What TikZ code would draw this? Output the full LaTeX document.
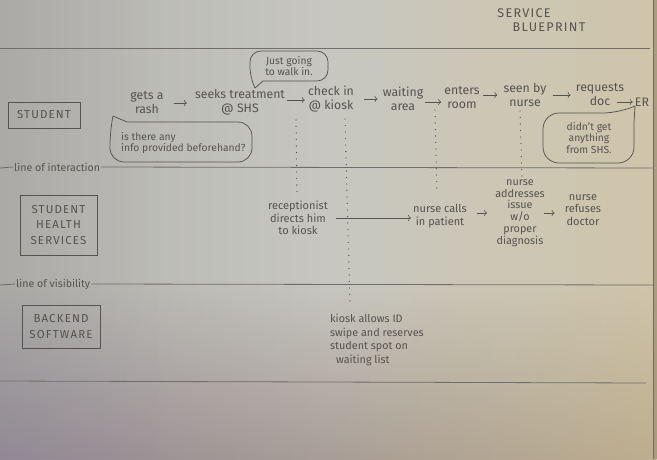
\documentclass[tikz,border=0pt]{standalone}
\usepackage{fontspec}
\setmainfont{Fira Sans}
\newfontfamily\capsfont{Fira Sans}[LetterSpace=10]
\usetikzlibrary{fadings, arrows.meta}

\definecolor{pencil}{HTML}{55544E}
\definecolor{rulegray}{HTML}{6F6E6A}
\definecolor{paperL}{HTML}{B2B1AE}
\definecolor{paperM}{HTML}{C7C7C0}
\definecolor{paperR}{HTML}{D0C5AA}
\definecolor{shadeL}{HTML}{8A7F90}
\definecolor{shadeR}{HTML}{B8A888}
\definecolor{edgecol}{HTML}{AC9C7C}

\begin{document}
\begin{tikzpicture}[x=1pt, y=-1pt,
  flow/.style={font=\fontsize{12.3}{14}\selectfont, align=center, inner sep=0pt, text=pencil},
  small/.style={font=\fontsize{11}{12.5}\selectfont, align=center, inner sep=0pt, text=pencil},
  caps/.style={font=\capsfont\fontsize{11.5}{15.5}\selectfont, align=center, inner sep=0pt, text=pencil},
  heading/.style={caps, font=\capsfont\fontsize{12.6}{15}\selectfont},
  lane/.style={caps, draw=pencil, line width=0.7pt},
  rule/.style={draw=rulegray, line width=0.8pt},
  rulelabel/.style={font=\fontsize{10.6}{12}\selectfont, inner sep=1pt, text=pencil},
  flowarrow/.style={draw=pencil, line width=0.6pt, -{To[length=3pt,width=6pt]}},
  guide/.style={draw=pencil, line width=1.3pt, line cap=round, dash pattern=on 0pt off 6.5pt},
  thought/.style={font=\fontsize{10.3}{11.3}\selectfont, align=center, inner sep=0pt, text=pencil},
  bubble/.style={draw=pencil, line width=0.75pt, line join=round}
]
\useasboundingbox (0,0) rectangle (657,459);

% paper and lighting
\shade[left color=paperL, right color=paperR, middle color=paperM] (0,0) rectangle (657,459);
\shade[left color=shadeL, right color=shadeR, path fading=north, opacity=0.8] (0,280) rectangle (657,459);
\fill[paperL!80!black, path fading=east, opacity=0.2] (0,0) rectangle (160,459);
\fill[edgecol] (653,0) rectangle (657,459);
\draw[rulegray, line width=0.6pt] (653,0) -- (653,459);

% title
\node[heading] (title1) at (524,13) {SERVICE};
\node[heading] (title2) at (549,27) {BLUEPRINT};

% ruled lines
\coordinate (r0w) at (0,48);   \coordinate (r0e) at (650,48);
\coordinate (r1w) at (0,168);  \coordinate (r1e) at (653,168);
\coordinate (r2w) at (0,285);  \coordinate (r2e) at (653,285);
\coordinate (r3w) at (0,381);  \coordinate (r3e) at (646,383);
\draw[rule] (r0w) -- (r0e);
\node[rulelabel, anchor=west] (interaction) at (13,167) {line of interaction};
\draw[rule] (r1w) -- (interaction.west);
\draw[rule] (interaction.east) -- (r1e);
\node[rulelabel, anchor=west] (visibility) at (15,284) {line of visibility};
\draw[rule] (r2w) -- (visibility.west);
\draw[rule] (visibility.east) -- (r2e);
\draw[rule] (r3w) -- (r3e);

% swimlane labels
\node[lane, minimum width=72pt, minimum height=26pt] (student) at (44,115) {STUDENT};
\node[lane, minimum width=77pt, minimum height=60pt] (shs) at (58.5,225) {STUDENT\\HEALTH\\SERVICES};
\node[lane, minimum width=78pt, minimum height=43pt] (backend) at (61,326.5) {BACKEND\\SOFTWARE};

% student actions
\node[flow] (rash) at (147,103) {gets a\\rash};
\node[flow] (seeks) at (240,102) {seeks treatment\\@ SHS};
\node[flow] (check) at (331,99) {check in\\@ kiosk};
\node[flow] (waiting) at (403,99) {waiting\\area};
\node[flow] (enters) at (462,98) {enters\\room};
\node[flow] (seen) at (525,95) {seen by\\nurse};
\node[flow] (requests) at (600,95) {requests\\doc};
\node[flow] (er) at (642,102) {ER};

\draw[flowarrow, shorten <=10pt, shorten >=8pt] (rash.east) -- (rash.east -| seeks.west);
\draw[flowarrow, shorten <=2pt, shorten >=3pt] ([yshift=2pt]seeks.east) -- ([yshift=2pt]seeks.east -| check.west);
\draw[flowarrow, shorten <=10pt, shorten >=5pt] (check.east) -- (check.east -| waiting.west);
\draw[flowarrow, shorten <=2pt, shorten >=3pt] ([yshift=-3pt]waiting.east) -- ([yshift=-3pt]waiting.east -| enters.west);
\draw[flowarrow, shorten <=3pt, shorten >=6pt] ([yshift=3pt]enters.east) -- ([yshift=3pt]enters.east -| seen.west);
\draw[flowarrow, shorten <=6pt, shorten >=5pt] (seen.east) -- (seen.east -| requests.west);
\draw[flowarrow, shorten >=2pt] ([xshift=-7pt,yshift=-7pt]requests.east) -- (er.west);

% customer thoughts: text, then the speech bubble drawn around it
\node[thought] (walk) at (289,66) {Just going\\to walk in.};
\node[thought, align=left, anchor=west] (info) at (121,143) {is there any\\info provided beforehand?};
\node[thought] (nothing) at (589,138) {didn't get\\anything\\from SHS.};

\coordinate (tipwalk) at (255,88);
\coordinate (tipinfo) at (113,116);
\coordinate (tipshs) at (635,106);

\draw[bubble, rounded corners=11pt]
  (263,81) -- (328,81) -- (328,51) -- (250,51) -- (250,78)
  [sharp corners] -- (tipwalk) -- cycle;
\draw[bubble, rounded corners=14pt]
  (127,122) -- (252,122) -- (252,162) -- (110,162) -- (110,131)
  [sharp corners] -- (tipinfo) -- cycle;
\draw[bubble, rounded corners=16pt]
  (634,123) -- (634,163) -- (543,163) -- (543,113) -- (619,113)
  [sharp corners] -- (tipshs) -- cycle;

% student health services actions
\node[small] (recep) at (298,218) {receptionist\\directs him\\to kiosk};
\node[small] (calls) at (440,216) {nurse calls\\in patient};
\node[small, font=\fontsize{10.8}{11.8}\selectfont] (addresses) at (520,213) {nurse\\addresses\\issue\\w/o\\proper\\diagnosis};
\node[small] (refuses) at (583,210) {nurse\\refuses\\doctor};

\draw[flowarrow, shorten <=8pt, shorten >=2pt] (recep.east) -- (recep.east -| calls.west);
\draw[flowarrow, shorten <=10pt, shorten >=8pt] ([yshift=3pt]calls.east) -- ([yshift=3pt]calls.east -| addresses.west);
\draw[flowarrow, shorten <=-1pt, shorten >=10pt] (addresses.east) -- (addresses.east -| refuses.west);

% backend action
\node[small, align=left, anchor=west, font=\fontsize{10.8}{13.7}\selectfont] (kiosk) at (330,340)
  {kiosk allows ID\\swipe and reserves\\student spot on\\\hspace*{6pt}waiting list};

% lines of sight between lanes
\coordinate (g1a) at (296,120); \coordinate (g1b) at (297,193);
\coordinate (g2a) at (345,119); \coordinate (g2b) at (350,306);
\coordinate (g3a) at (435,110); \coordinate (g3b) at (437,194);
\coordinate (g4a) at (520,111); \coordinate (g4b) at (522,178);
\draw[guide] (g1a) -- (g1b);
\draw[guide] (g2a) -- (g2b);
\draw[guide] (g3a) -- (g3b);
\draw[guide] (g4a) -- (g4b);
\end{tikzpicture}
\end{document}
